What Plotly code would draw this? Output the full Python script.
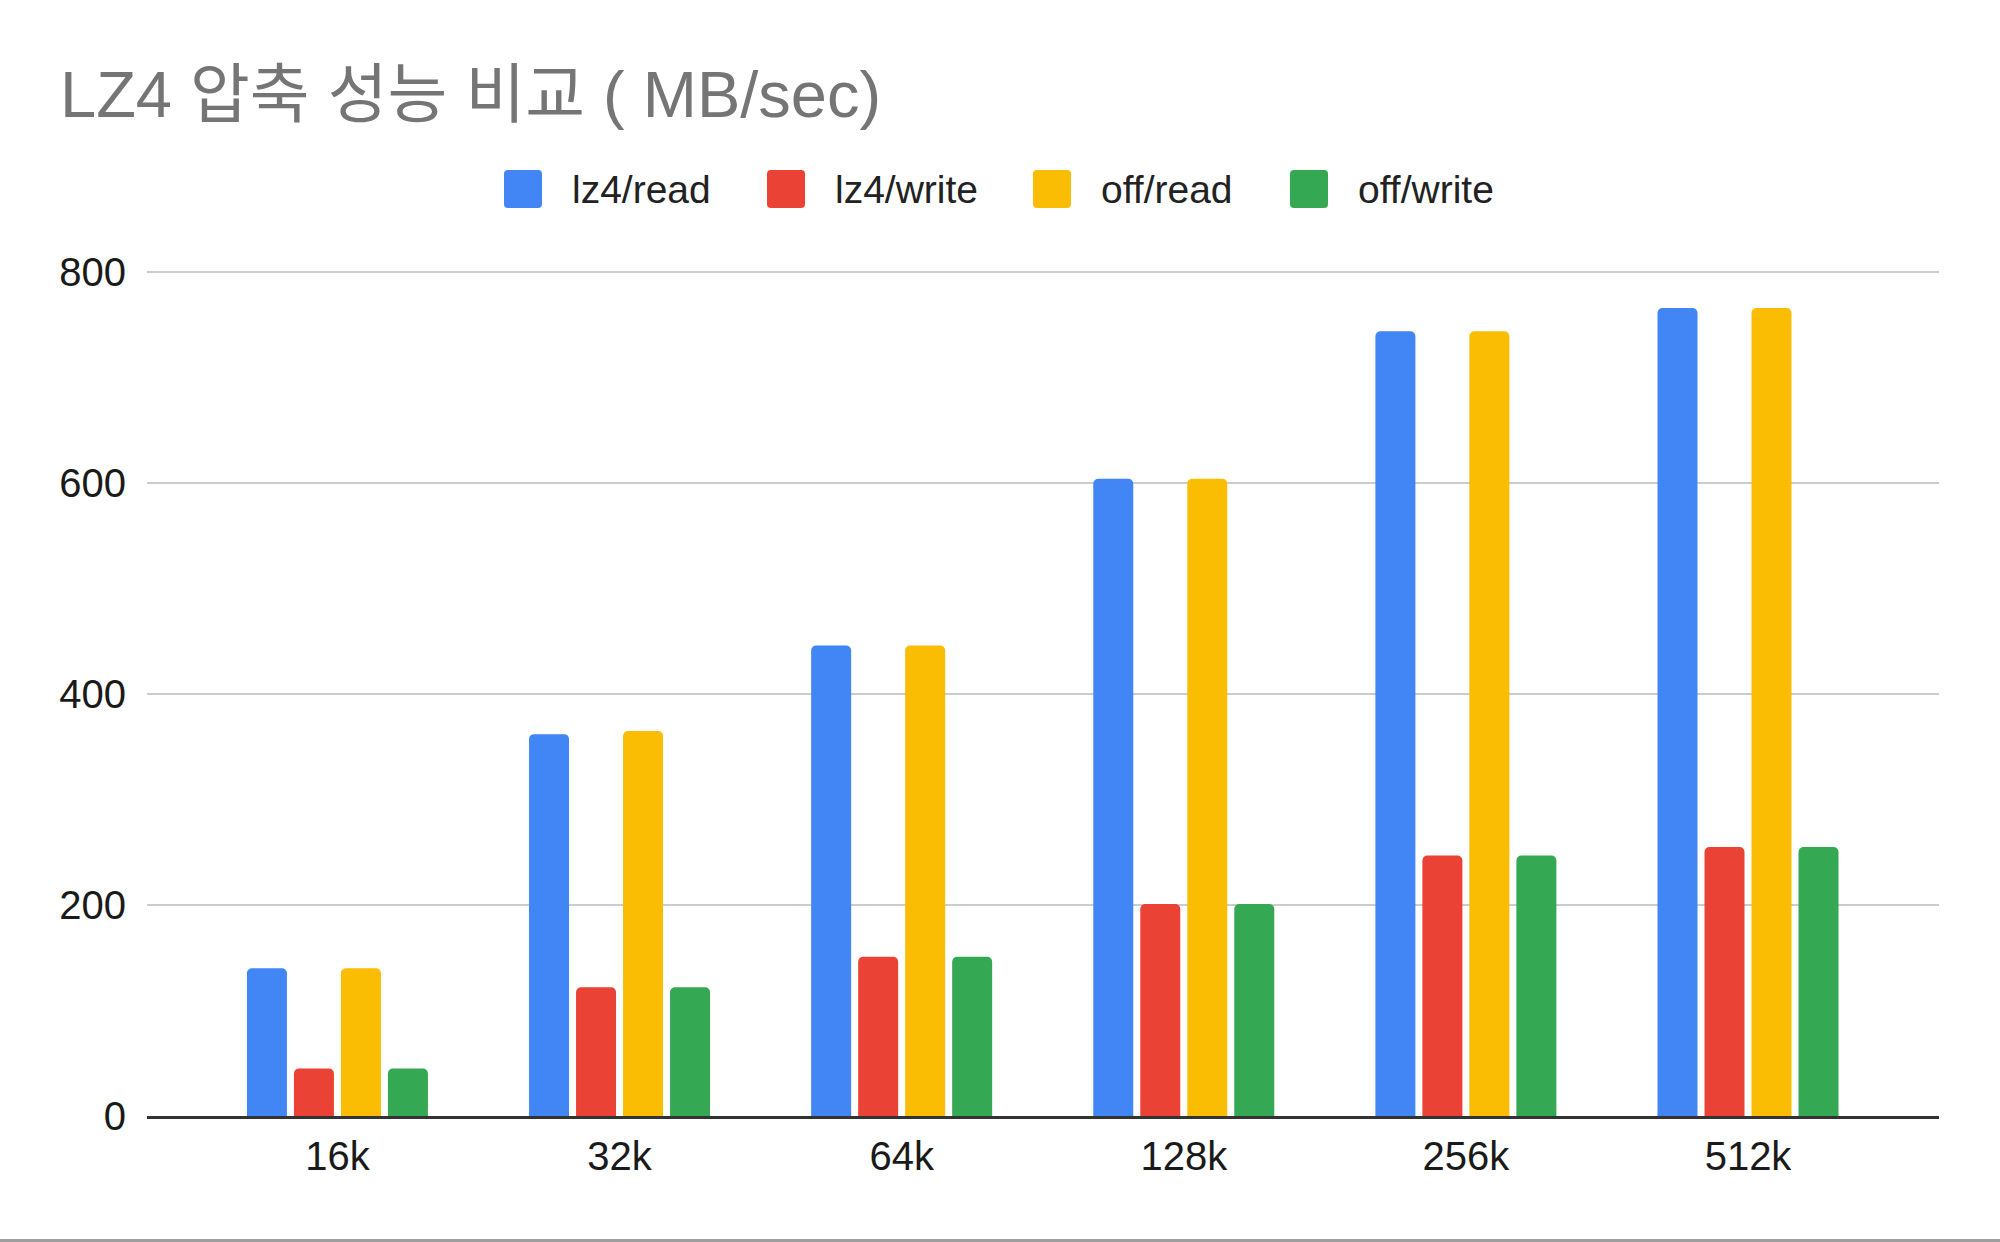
import plotly.graph_objects as go

# ---- data ----
categories = ["16k", "32k", "64k", "128k", "256k", "512k"]
series_names = ["lz4/read", "lz4/write", "off/read", "off/write"]
lz4_read = [140, 362, 446, 604, 744, 766]
lz4_write = [45, 122, 151, 201, 247, 255]
off_read = [140, 365, 446, 604, 744, 766]
off_write = [45, 122, 151, 201, 247, 255]
y_ticks = [0, 200, 400, 600, 800]
title_text = "LZ4 압축 성능 비교 ( MB/sec)"

colors = ["#4285F4", "#EA4335", "#FBBC04", "#34A853"]
values = [lz4_read, lz4_write, off_read, off_write]

W, H = 2000, 1242
ML, MR, MT, MB = 147, 61, 270, 126
PW, PH = W - ML - MR, H - MT - MB


def px(x):
    return (x - ML) / PW


def py(y):
    return (H - MB - y) / PH


fig = go.Figure()
for name, vals, col in zip(series_names, values, colors):
    fig.add_trace(go.Bar(
        x=categories, y=vals, name=name,
        marker=dict(color=col, line=dict(width=0), cornerradius=5),
        showlegend=False,
    ))

# manual legend (large rounded squares like the reference)
legend_x = [504, 767, 1033, 1290]
shapes = []
annotations = []
for name, col, lx in zip(series_names, colors, legend_x):
    x0, x1 = px(lx), px(lx + 38)
    y0, y1 = py(208), py(170)
    r = 4
    rx, ry = r / PW, r / PH
    path = (f"M{x0+rx},{y0} L{x1-rx},{y0} Q{x1},{y0} {x1},{y0+ry} "
            f"L{x1},{y1-ry} Q{x1},{y1} {x1-rx},{y1} L{x0+rx},{y1} "
            f"Q{x0},{y1} {x0},{y1-ry} L{x0},{y0+ry} Q{x0},{y0} {x0+rx},{y0} Z")
    shapes.append(dict(type="path", xref="paper", yref="paper", path=path,
                       fillcolor=col, line=dict(width=0)))
    annotations.append(dict(
        x=px(lx + 66), y=py(189), xref="paper", yref="paper",
        text=name, showarrow=False, xanchor="left", yanchor="middle",
        font=dict(family="Liberation Sans, Arial, sans-serif", size=39, color="#222222"),
    ))

# bottom gray border line
shapes.append(dict(type="line", xref="paper", yref="paper",
                   x0=px(0), x1=px(W), y0=py(1240.5), y1=py(1240.5),
                   line=dict(color="#9e9e9e", width=3)))

fig.update_layout(
    width=W, height=H,
    margin=dict(l=ML, r=MR, t=MT, b=MB),
    paper_bgcolor="white", plot_bgcolor="white",
    barmode="group", bargap=0.3336, bargroupgap=0.149,
    title=dict(
        text=title_text, x=60 / W, xanchor="left", xref="container",
        y=1 - 94 / H, yanchor="middle", yref="container",
        font=dict(family="Liberation Sans, Noto Sans CJK KR, sans-serif", size=65, color="#757575"),
    ),
    xaxis=dict(
        type="category", range=[-0.675, 5.677],
        showgrid=False, showline=True, linecolor="#333333", linewidth=3,
        ticks="", ticklabelstandoff=3,
        tickfont=dict(family="Liberation Sans, Arial, sans-serif", size=40, color="#1a1a1a"),
    ),
    yaxis=dict(
        range=[0, 802], tickvals=y_ticks, showgrid=True, gridcolor="#cccccc", gridwidth=2,
        zeroline=False, showline=False, ticks="", ticklabelstandoff=20,
        tickfont=dict(family="Liberation Sans, Arial, sans-serif", size=40, color="#1a1a1a"),
    ),
    shapes=shapes, annotations=annotations,
    font=dict(family="Liberation Sans, Noto Sans CJK KR, sans-serif"),
)

fig.write_html("out.html")
